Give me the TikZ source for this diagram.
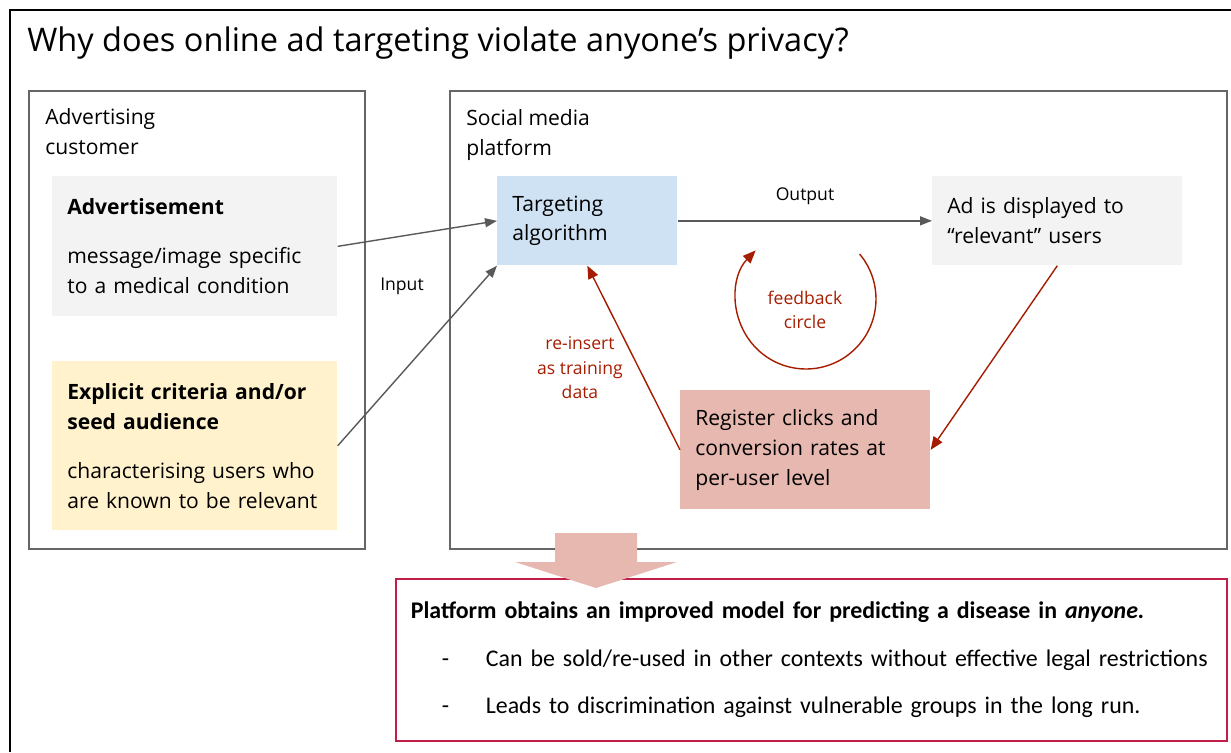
\documentclass[tikz,border=0pt]{standalone}
\usepackage{fontspec}
\setmainfont{Open Sans}
\newfontfamily\calibri{Carlito}
\usetikzlibrary{arrows.meta, positioning}
\usepackage{xcolor}
\definecolor{boxgrey}{HTML}{F3F3F3}
\definecolor{algoblue}{HTML}{CFE2F3}
\definecolor{crityellow}{HTML}{FFF2CC}
\definecolor{regpink}{HTML}{E6B8AF}
\definecolor{darkred}{HTML}{A61C00}
\definecolor{panelgrey}{HTML}{666666}
\definecolor{arrgrey}{HTML}{595959}
\definecolor{crimson}{HTML}{C21E48}

\begin{document}
\begin{tikzpicture}[x=0.02cm,y=-0.02cm,font=\fontsize{12}{17}\selectfont,
    box/.style={anchor=north west,align=left,inner xsep=0.3cm,inner ysep=0pt},
    panel/.style={draw=panelgrey,line width=1pt,anchor=north west,minimum height=9.16cm},
    note/.style={font=\fontsize{10}{14}\selectfont,align=center},
    arr/.style={-{Triangle[length=2.4mm,width=1.8mm]},draw=arrgrey,line width=0.8pt},
    redarr/.style={-{Triangle[length=2.6mm,width=2.1mm]},draw=darkred,line width=0.8pt}]
    \useasboundingbox (0,0) rectangle (1231,752);
    \draw[line width=1.6pt] (10,752) -- (10,10) -- (1231,10);
    \node[anchor=west,inner sep=0pt,font=\fontsize{18.5}{22}\selectfont] (title) at (27,43)
      {Why does online ad targeting violate anyone’s privacy?};
    % customer side
    \node[panel,minimum width=6.72cm] (customer) at (28,90) {};
    \node[anchor=west,align=left,inner sep=0pt] (custlbl) at (45,132) {Advertising\\customer};
    \node[box,fill=boxgrey,text width=5.1cm,minimum height=2.8cm] (advert) at (52,176)
      {\textbf{Advertisement}\\[11pt]message/image specific\\to a medical condition};
    \node[box,fill=crityellow,text width=5.1cm,minimum height=3.38cm] (criteria) at (52,361)
      {\textbf{Explicit criteria and/or}\\\textbf{seed audience}\\[11pt]characterising users who\\are known to be relevant};
    % platform side
    \node[panel,minimum width=15.54cm] (platform) at (449,90) {};
    \node[anchor=west,align=left,inner sep=0pt] (platlbl) at (466,135) {Social media\\platform};
    \node[box,fill=algoblue,text width=3.0cm,minimum height=1.78cm] (algo) at (497,176) {Targeting\\algorithm};
    \node[box,fill=boxgrey,text width=4.4cm,minimum height=1.78cm] (display) at (932,176) {Ad is displayed to\\“relevant” users};
    \node[box,fill=regpink,text width=4.4cm,minimum height=2.38cm] (register) at (680,390)
      {Register clicks and\\conversion rates at\\per-user level};
    \draw[arr](advert.east)--(algo.west);\draw[arr](criteria.east)--(algo.south west);
    \draw[arr](algo)--(display);
    \node[note] (inlbl) at (402,286) {Input};
    \node[note] (outlbl) at (805,196) {Output};
    % feedback loop
    \coordinate (fbc) at (806,299);
    \draw[redarr] ([shift={(40:1.4cm)}]fbc) arc[start angle=40,end angle=-224,radius=1.4cm];
    \node[note,text=darkred] (fblbl) at (805,310) {feedback\\circle};
    \draw[redarr](display.south)--(register.east);\draw[redarr](register.west)--(algo.south);
    \node[note,text=darkred] (reinslbl) at (580,368) {re-insert\\as training\\data};
    % outcome
    \node[draw=crimson,line width=1pt,anchor=north west,align=left,inner xsep=0.3cm,
          text width=16.02cm,minimum height=3.24cm,font=\calibri\fontsize{13.6}{27}\selectfont] (result) at (395,578)
      {\textbf{Platform obtains an improved model for predicting a disease in \textit{anyone.}}\\
       \hspace*{0.62cm}\makebox[0.88cm][l]{-}Can be sold/re-used in other contexts without effective legal restrictions\\
       \hspace*{0.62cm}\makebox[0.88cm][l]{-}Leads to discrimination against vulnerable groups in the long run.};
    \fill[regpink] (555,533) -- (637,533) -- (637,562) -- (677,562) -- (596,588) -- (515,562) -- (555,562) -- cycle;
  \end{tikzpicture}
\end{document}
